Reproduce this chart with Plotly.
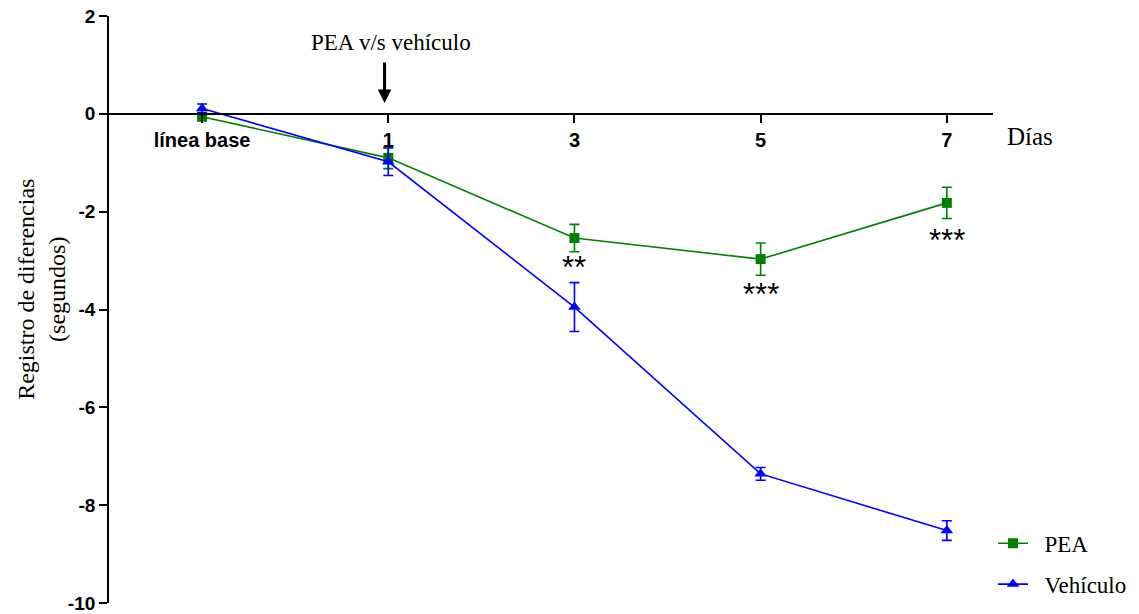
import plotly.graph_objects as go

# ---- data ----
x_pos = [0, 1, 2, 3, 4]
x_labels = ["línea base", "1", "3", "5", "7"]

pea_mean = [-0.06, -0.90, -2.54, -2.97, -1.82]
pea_err = [0.04, 0.22, 0.28, 0.33, 0.32]

veh_mean = [0.11, -0.98, -3.95, -7.36, -8.52]
veh_err = [0.09, 0.28, 0.50, 0.13, 0.20]

y_ticks = [2, 0, -2, -4, -6, -8, -10]

sig_x = [2, 3, 4]
sig_text = ["**", "***", "***"]
sig_y = [-3.14, -3.70, -2.59]

SERIF = "Liberation Serif, Times New Roman, serif"
SANS = "Liberation Sans, Arial, sans-serif"
NB = "\u00a0\u00a0"

fig = go.Figure()

fig.add_trace(go.Scatter(
    x=x_pos, y=pea_mean, name=NB + "PEA", mode="lines+markers",
    line=dict(color="#008000", width=1.6),
    marker=dict(symbol="square", size=10, color="#008000"),
    error_y=dict(type="data", array=pea_err, visible=True, color="#008000",
                 thickness=1.6, width=5),
    legendgroup="a",
))
fig.add_trace(go.Scatter(
    x=x_pos, y=veh_mean, name=NB + "Vehículo", mode="lines+markers",
    line=dict(color="#0000FF", width=1.6),
    marker=dict(symbol="triangle-up", size=11, color="#0000FF"),
    error_y=dict(type="data", array=veh_err, visible=True, color="#0000FF",
                 thickness=1.6, width=5),
    legendgroup="b",
))

annotations = []
for sx, st, sy in zip(sig_x, sig_text, sig_y):
    annotations.append(dict(x=sx, y=sy, xref="x", yref="y", text=st, showarrow=False,
                            font=dict(family=SANS, size=31, color="black"),
                            xanchor="center", yanchor="middle"))

# arrow and treatment label
annotations.append(dict(x=0.98, y=0.22, xref="x", yref="y", text="", showarrow=True,
                        ax=0, ay=-42, arrowhead=2, arrowsize=0.9, arrowwidth=3,
                        arrowcolor="black", standoff=0))
annotations.append(dict(x=(391 - 109) / 884, y=(603.3 - 43) / 587.3, xref="paper", yref="paper",
                        text="PEA v/s vehículo", showarrow=False,
                        font=dict(family=SERIF, size=23, color="black"),
                        xanchor="center", yanchor="middle"))
annotations.append(dict(x=(1030 - 109) / 884, y=(603.3 - 137) / 587.3, xref="paper", yref="paper",
                        text="Días", showarrow=False,
                        font=dict(family=SERIF, size=25, color="black"),
                        xanchor="center", yanchor="middle"))
annotations.append(dict(x=(42 - 109) / 884, y=(603.3 - 290) / 587.3, xref="paper", yref="paper",
                        text="Registro de diferencias<br>(segundos)", showarrow=False,
                        textangle=-90,
                        font=dict(family=SERIF, size=24, color="black"),
                        xanchor="center", yanchor="middle"))

fig.update_layout(
    width=1139, height=614,
    margin=dict(l=109, r=146, t=16, b=11, autoexpand=False),
    paper_bgcolor="white", plot_bgcolor="white",
    showlegend=True,
    legend=dict(x=1.0, y=(603.3 - 522) / 587.3, xanchor="left", yanchor="top",
                font=dict(family=SERIF, size=23, color="black"),
                tracegroupgap=8, bgcolor="rgba(0,0,0,0)"),
    annotations=annotations,
    xaxis=dict(range=[-0.5, 4.248], tickvals=x_pos, ticktext=x_labels,
               showgrid=False, zeroline=False, automargin=False,
               showline=True, linecolor="black", linewidth=1.8,
               ticks="outside", ticklen=8, tickwidth=1.8, tickcolor="black",
               anchor="free", position=10 / 12,
               tickfont=dict(family=SANS, size=20, color="black", weight="bold")),
    yaxis=dict(range=[-10, 2], tickvals=y_ticks, ticktext=[str(v) for v in y_ticks],
               showgrid=False, zeroline=False, automargin=False,
               showline=True, linecolor="black", linewidth=1.8,
               ticks="outside", ticklen=8, tickwidth=1.8, tickcolor="black",
               tickfont=dict(family=SANS, size=19, color="black", weight="bold")),
)

fig.write_html("out.html")
